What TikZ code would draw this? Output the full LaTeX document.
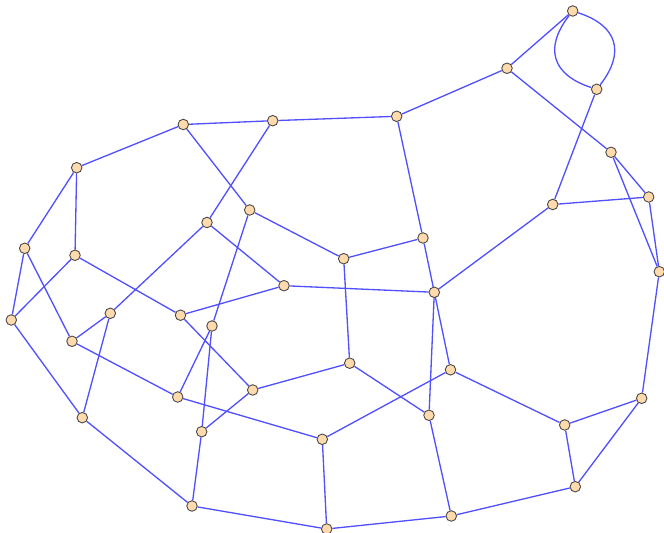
\documentclass[tikz,border=0pt]{standalone}
\usepackage{tikz}
\usetikzlibrary{backgrounds}

\definecolor{edgeblue}{RGB}{80,80,255}
\definecolor{vertfill}{RGB}{255,218,172}
\definecolor{vertdraw}{RGB}{70,70,70}

\begin{document}
\begin{tikzpicture}[x=0.02cm, y=-0.02cm,
    vert/.style={circle, draw=vertdraw, fill=vertfill, line width=0.5pt,
                 minimum size=6pt, inner sep=0pt},
    edge/.style={edgeblue, line width=0.75pt}]
  \useasboundingbox (0,0) rectangle (664,533);
  % Vertices (pixel positions)
  \node[vert] (a1)  at (572.7, 11)    {};
  \node[vert] (a2)  at (507, 68.3)    {};
  \node[vert] (a3)  at (596.7, 89.3)  {};
  \node[vert] (a4)  at (611, 152.3)   {};
  \node[vert] (a5)  at (552.7, 204.5) {};
  \node[vert] (a6)  at (659.3, 271.7) {};
  \node[vert] (a7)  at (396.7, 116.3) {};
  \node[vert] (a8)  at (272.7, 120.7) {};
  \node[vert] (a9)  at (183.3, 124.5) {};
  \node[vert] (a10) at (76.7, 167.7)  {};
  \node[vert] (a11) at (24.7, 248.3)  {};
  \node[vert] (a12) at (75, 255.3)    {};
  \node[vert] (a13) at (11.3, 320)    {};
  \node[vert] (a14) at (72, 341.3)    {};
  \node[vert] (a15) at (82.3, 417.7)  {};
  \node[vert] (a16) at (192, 506)     {};
  \node[vert] (a17) at (326.7, 529)   {};
  \node[vert] (a18) at (451.3, 516)   {};
  \node[vert] (a19) at (575.3, 486.7) {};
  \node[vert] (a20) at (641.7, 398.3) {};
  \node[vert] (a21) at (564.7, 425)   {};
  \node[vert] (a22) at (450.5, 369.8) {};
  \node[vert] (a23) at (429, 415.3)   {};
  \node[vert] (a24) at (434.3, 292.3) {};
  \node[vert] (a25) at (423, 238)     {};
  \node[vert] (a26) at (343.7, 258.7) {};
  \node[vert] (a27) at (284, 285.7)   {};
  \node[vert] (a28) at (249.7, 210)   {};
  \node[vert] (a29) at (207, 222.5)   {};
  \node[vert] (a30) at (110.3, 313.3) {};
  \node[vert] (a31) at (180.5, 315.2) {};
  \node[vert] (a32) at (212, 326)     {};
  \node[vert] (a33) at (252.7, 390)   {};
  \node[vert] (a34) at (177.7, 397)   {};
  \node[vert] (a35) at (201.7, 431.7) {};
  \node[vert] (a36) at (322.3, 439.3) {};
  \node[vert] (a37) at (349.7, 363.2) {};
  \node[vert] (a38) at (648.7, 197)   {};
  % Edges (behind the vertices)
  \begin{scope}[on background layer]
  % Top loop
  \draw[edge] (a1) to[bend left=55, looseness=1.4] (a3);
  \draw[edge] (a1) to[bend right=55, looseness=1.4] (a3);
  \draw[edge] (a1) -- (a2);
  \draw[edge] (a2) -- (a7);
  \draw[edge] (a2) -- (a4);
  \draw[edge] (a3) -- (a5);
  % Right side
  \draw[edge] (a4) -- (a38);
  \draw[edge] (a4) -- (a6);
  \draw[edge] (a5) -- (a38);
  \draw[edge] (a38) -- (a6);
  \draw[edge] (a5) -- (a24);
  \draw[edge] (a6) -- (a20);
  % Top row
  \draw[edge] (a7) -- (a8);
  \draw[edge] (a8) -- (a9);
  \draw[edge] (a7) -- (a25);
  \draw[edge] (a9) -- (a10);
  \draw[edge] (a9) -- (a28);
  \draw[edge] (a8) -- (a29);
  % Left side
  \draw[edge] (a10) -- (a11);
  \draw[edge] (a10) -- (a12);
  \draw[edge] (a11) -- (a13);
  \draw[edge] (a11) -- (a14);
  \draw[edge] (a12) -- (a13);
  \draw[edge] (a12) -- (a31);
  \draw[edge] (a13) -- (a15);
  \draw[edge] (a14) -- (a30);
  \draw[edge] (a14) -- (a34);
  \draw[edge] (a30) -- (a29);
  \draw[edge] (a30) -- (a15);
  \draw[edge] (a15) -- (a16);
  % Middle
  \draw[edge] (a29) -- (a27);
  \draw[edge] (a28) -- (a26);
  \draw[edge] (a28) -- (a32);
  \draw[edge] (a27) -- (a31);
  \draw[edge] (a27) -- (a24);
  \draw[edge] (a26) -- (a25);
  \draw[edge] (a26) -- (a37);
  \draw[edge] (a25) -- (a22);
  \draw[edge] (a31) -- (a33);
  \draw[edge] (a32) -- (a34);
  \draw[edge] (a32) -- (a35);
  \draw[edge] (a35) -- (a33);
  \draw[edge] (a35) -- (a16);
  \draw[edge] (a33) -- (a37);
  \draw[edge] (a37) -- (a23);
  \draw[edge] (a24) -- (a23);
  % Bottom
  \draw[edge] (a22) -- (a36);
  \draw[edge] (a22) -- (a21);
  \draw[edge] (a34) -- (a36);
  \draw[edge] (a36) -- (a17);
  \draw[edge] (a16) -- (a17);
  \draw[edge] (a17) -- (a18);
  \draw[edge] (a23) -- (a18);
  \draw[edge] (a18) -- (a19);
  \draw[edge] (a21) -- (a20);
  \draw[edge] (a21) -- (a19);
  \draw[edge] (a20) -- (a19);
  \end{scope}
\end{tikzpicture}
\end{document}
